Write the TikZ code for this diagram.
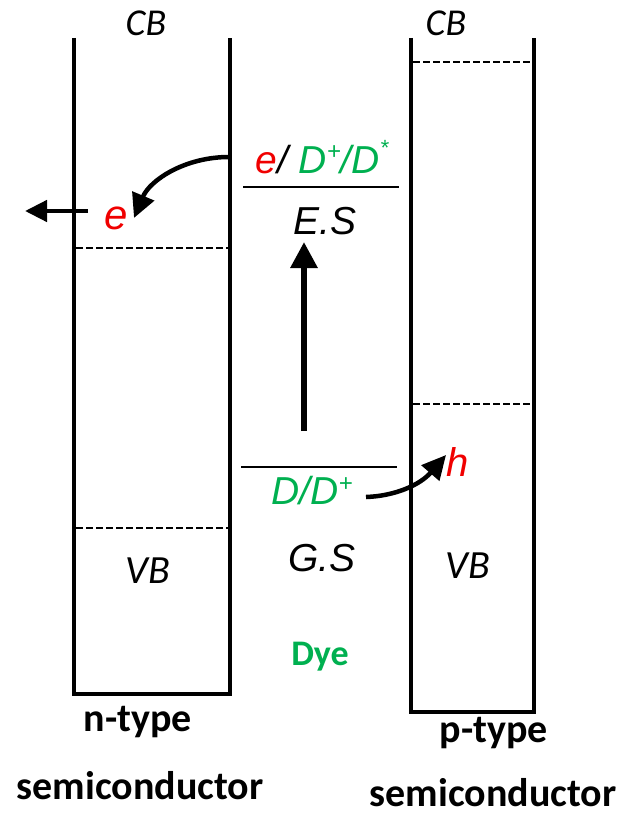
\documentclass[tikz,border=0pt]{standalone}
\usepackage{fontspec}
\setmainfont{Carlito}
\newfontfamily\arial{Liberation Sans}
\usetikzlibrary{arrows.meta}
\definecolor{dgreen}{RGB}{0,176,80}
\definecolor{dred}{RGB}{240,0,0}
\tikzset{
  wall/.style={line width=4pt},
  level/.style={line width=2.2pt, dash pattern=on 6.5pt off 3.5pt},
  dyelevel/.style={line width=1.2pt},
  bigarrow/.style={line width=4.5pt, -{Triangle[length=24pt,width=23pt]}},
  cb/.style={font=\fontsize{38}{42}\selectfont\itshape, inner sep=0pt},
  ar/.style={font=\arial\fontsize{39}{42}\selectfont\itshape, inner sep=0pt},
  lab/.style={font=\fontsize{40}{44}\selectfont\bfseries, inner sep=0pt},
}
\begin{document}
\begin{tikzpicture}[x=1pt,y=-1pt]
\useasboundingbox (0,0) rectangle (624,813);
% boxes
\draw[wall] (74,38) -- (74,694) -- (230,694) -- (230,38);
\draw[wall] (411,38) -- (411,712) -- (534,712) -- (534,38);
% band levels
\draw[level] (76,248) -- (228,248);
\draw[level] (76,528) -- (228,528);
\draw[level] (413,62) -- (532,62);
\draw[level] (413,404) -- (532,404);
% dye levels
\draw[dyelevel] (243,187) -- (399,187);
\draw[dyelevel] (241,467) -- (397,467);
% texts
\node[cb] (cbl) at (146,23) {CB};
\node[cb] (cbr) at (446,23) {CB};
\node[cb, font=\fontsize{40}{44}\selectfont\itshape] (vbl) at (148,571) {VB};
\node[cb, font=\fontsize{40}{44}\selectfont\itshape] (vbr) at (468,566) {VB};
\node[ar] (es) at (325,221) {E.S};
\node[ar] (gs) at (322,558) {G.S};
\node[ar] (top) at (322,157) {\textcolor{dred}{e}/ \textcolor{dgreen}{D\raisebox{0.35em}{\fontsize{24}{26}\selectfont +}/D\raisebox{0.45em}{\fontsize{22}{24}\selectfont *}}};
\node[ar, text=dgreen] (dd) at (312,491) {D/D\raisebox{0.35em}{\fontsize{24}{26}\selectfont +}};
\node[ar, text=dred, font=\arial\fontsize{42}{46}\selectfont\itshape] (e) at (116,218) {e};
\node[ar, text=dred, font=\arial\fontsize{40}{44}\selectfont\itshape] (h) at (458,462) {h};
\node[lab, text=dgreen, font=\fontsize{36}{40}\selectfont\bfseries] (dye) at (320,657) {Dye};
\node[lab] (nt) at (138,722) {n-type};
\node[lab] (ns) at (140,786) {semiconductor};
\node[lab] (pt) at (494,733) {p-type};
\node[lab] (ps) at (493,793) {semiconductor};
% arrows
\coordinate (upstart) at (304,431);
\coordinate (upend) at (304,242);
\draw[line width=6pt, -{Triangle[length=26pt,width=26pt]}] (upstart) -- (upend);
\coordinate (lstart) at (88,211);
\coordinate (lend) at (25,211);
\draw[line width=4.5pt, -{Triangle[length=22pt,width=21pt]}] (lstart) -- (lend);
\coordinate (c1s) at (229,157);
\coordinate (c1e) at (134,218);
\draw[bigarrow] (c1s) .. controls (185,157) and (150,180) .. (c1e);
\coordinate (c2s) at (366,497);
\coordinate (c2e) at (446,455);
\draw[bigarrow] (c2s) .. controls (395,496) and (420,485) .. (c2e);
\end{tikzpicture}
\end{document}
